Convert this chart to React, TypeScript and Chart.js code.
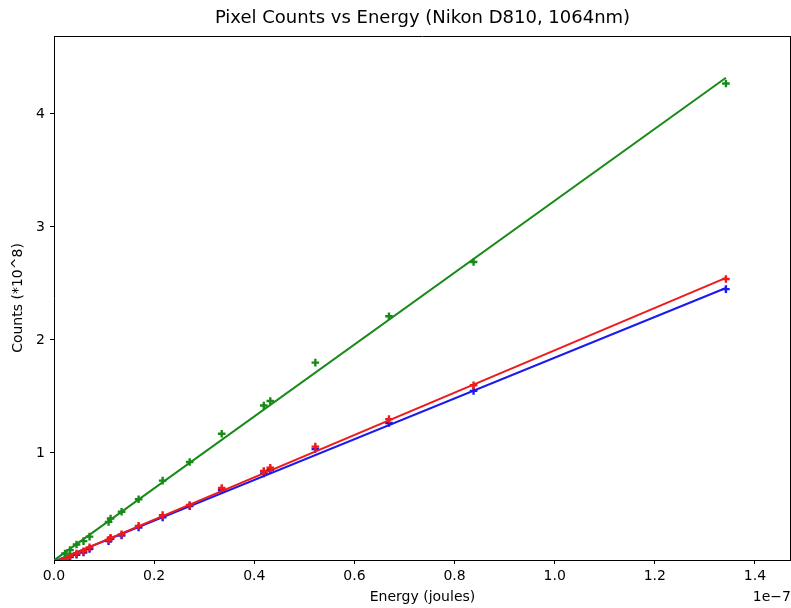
import React, { useEffect, useRef } from "react";
import { Chart, registerables } from "chart.js";

Chart.register(...registerables);

// Energy in units of 1e-7 J, counts in units of 1e8
const energy = [1.342, 0.838, 0.669, 0.522, 0.432, 0.419, 0.335, 0.271, 0.217, 0.169, 0.135, 0.113, 0.109, 0.071, 0.059, 0.045, 0.032, 0.022];
const greenCounts = [4.27, 2.69, 2.21, 1.8, 1.46, 1.42, 1.17, 0.92, 0.755, 0.59, 0.48, 0.42, 0.39, 0.26, 0.22, 0.19, 0.14, 0.11];
const redCounts = [2.54, 1.6, 1.3, 1.056, 0.87, 0.84, 0.69, 0.54, 0.45, 0.355, 0.28, 0.25, 0.23, 0.165, 0.13, 0.11, 0.09, 0.07];
const blueCounts = [2.45, 1.55, 1.265, 1.035, 0.85, 0.82, 0.67, 0.53, 0.43, 0.34, 0.27, 0.24, 0.22, 0.15, 0.12, 0.1, 0.08, 0.065];

// Fitted lines (endpoints)
const fitEnergy = [0, 1.342];
const greenFit = [0.05, 4.32];
const redFit = [0.035, 2.55];
const blueFit = [0.04, 2.46];

const xTicks = [0, 0.2, 0.4, 0.6, 0.8, 1.0, 1.2, 1.4];
const yTicks = [1, 2, 3, 4];

const TITLE = "Pixel Counts vs Energy (Nikon D810, 1064nm)";
const X_LABEL = "Energy (joules)";
const Y_LABEL = "Counts (*10^8)";
const X_OFFSET = "1e\u22127";

const FONT = "'DejaVu Sans', sans-serif";
const GREEN = "#178a17";
const RED = "#f01a1a";
const BLUE = "#1a1aee";

const pts = (xs: number[], ys: number[]) => xs.map((x, i) => ({ x, y: ys[i] }));

export default function App() {
  const ref = useRef<HTMLCanvasElement | null>(null);
  useEffect(() => {
    if (!ref.current) return;
    const scatter = (data: number[], color: string) => ({
      data: pts(energy, data),
      showLine: false,
      pointStyle: "cross" as const,
      pointRadius: 3.8,
      pointBorderWidth: 2.4,
      borderColor: color,
      backgroundColor: color,
    });
    const line = (data: number[], color: string) => ({
      data: pts(fitEnergy, data),
      showLine: true,
      pointRadius: 0,
      borderWidth: 2,
      borderColor: color,
      backgroundColor: color,
    });
    const textPlugin = {
      id: "texts",
      afterDraw(chart: any) {
        const { ctx, chartArea } = chart;
        const a = chartArea;
        ctx.save();
        ctx.strokeStyle = "#000";
        ctx.lineWidth = 1;
        ctx.beginPath();
        ctx.moveTo(a.left, a.top + 0.5);
        ctx.lineTo(a.right, a.top + 0.5);
        ctx.moveTo(a.right - 0.5, a.top);
        ctx.lineTo(a.right - 0.5, a.bottom);
        ctx.stroke();
        ctx.fillStyle = "#000";
        const cx = (a.left + a.right) / 2;
        ctx.font = `18px ${FONT}`;
        ctx.textAlign = "center";
        ctx.textBaseline = "middle";
        ctx.fillText(TITLE, cx, 18);
        ctx.font = `14px ${FONT}`;
        ctx.fillText(X_LABEL, cx, 597);
        ctx.textAlign = "right";
        ctx.fillText(X_OFFSET, a.right, 597);
        ctx.translate(18, (a.top + a.bottom) / 2);
        ctx.rotate(-Math.PI / 2);
        ctx.textAlign = "center";
        ctx.fillText(Y_LABEL, 0, 0);
        ctx.restore();
      },
    };
    const axisCommon = {
      grid: { display: true, drawOnChartArea: false, drawTicks: true, tickLength: 4, tickColor: "#000", tickWidth: 1 },
      border: { display: true, color: "#000", width: 1 },
    };
    const chart = new Chart(ref.current, {
      type: "scatter",
      data: {
        datasets: [
          scatter(greenCounts, GREEN),
          line(greenFit, GREEN),
          scatter(redCounts, RED),
          line(redFit, RED),
          scatter(blueCounts, BLUE),
          line(blueFit, BLUE),
        ] as any,
      },
      options: {
        animation: false,
        responsive: false,
        layout: { autoPadding: false, padding: { top: 36, left: 0, right: 0, bottom: 0 } },
        plugins: { legend: { display: false }, title: { display: false }, tooltip: { enabled: false } },
        scales: {
          x: {
            type: "linear",
            min: 0,
            max: 1.472,
            ...axisCommon,
            afterBuildTicks: (s: any) => {
              s.ticks = xTicks.map((v) => ({ value: v }));
            },
            afterFit: (s: any) => {
              s.height = 48;
              s.paddingLeft = 0;
              s.paddingRight = 0;
            },
            ticks: {
              color: "#000",
              padding: 4,
              maxRotation: 0,
              font: { family: FONT, size: 14 },
              callback: (v: any) => Number(v).toFixed(1),
            },
          },
          y: {
            type: "linear",
            min: 0.053,
            max: 4.69,
            ...axisCommon,
            afterBuildTicks: (s: any) => {
              s.ticks = yTicks.map((v) => ({ value: v }));
            },
            afterFit: (s: any) => {
              s.width = 54;
              s.paddingTop = 0;
              s.paddingBottom = 0;
            },
            ticks: {
              color: "#000",
              padding: 5,
              font: { family: FONT, size: 14 },
              callback: (v: any) => String(v),
            },
          },
        },
      } as any,
      plugins: [textPlugin],
    });
    return () => chart.destroy();
  }, []);
  return (
    <div style={{ position: "fixed", left: 0, top: 0, width: 791, height: 608, background: "#fff" }}>
      <canvas ref={ref} width={791} height={608} />
    </div>
  );
}
